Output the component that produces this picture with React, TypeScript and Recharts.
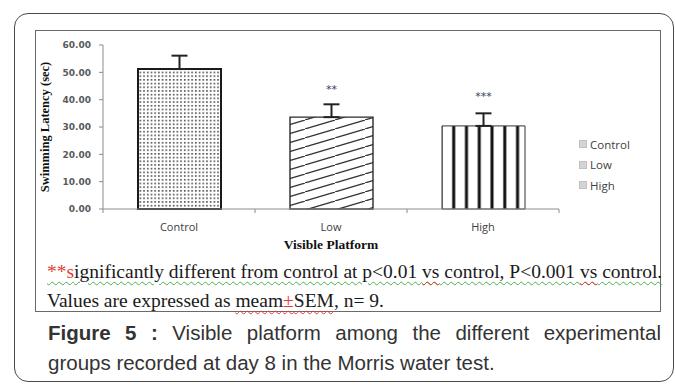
import { BarChart, Bar, XAxis, YAxis, ErrorBar, Cell, LabelList } from "recharts";

const groups = ["Control", "Low", "High"];
const latency = [51.2, 33.6, 30.4];
const sem = [4.9, 4.7, 4.6];
const marks = ["", "**", "***"];
const yTicks = [0, 10, 20, 30, 40, 50, 60];

const rows = groups.map((group, i) => ({
  group,
  latency: latency[i],
  err: [0, sem[i]],
  mark: marks[i],
}));

const CHART_W = 626;
const CHART_H = 230;
const MARGIN = { top: 15, right: 102, left: 0, bottom: 11 };
const Y_W = 68;
const BAND = (CHART_W - MARGIN.left - MARGIN.right - Y_W) / groups.length;

const fills = ["url(#dots)", "url(#hatch)", "url(#stripes)"];
const strokes = [
  { stroke: "#1a1a1a", w: 2 },
  { stroke: "#2a2a2a", w: 1.4 },
  { stroke: "#333", w: 1 },
];

// Excel-style category tick: label centred, tick marks on the band edges
function GroupTick(props: any) {
  const { x, y, payload, index } = props;
  const left = x - BAND / 2;
  return (
    <g>
      <line x1={left} y1={y} x2={left} y2={y + 4} stroke="#8c8c8c" />
      {index === groups.length - 1 && (
        <line x1={x + BAND / 2} y1={y} x2={x + BAND / 2} y2={y + 4} stroke="#8c8c8c" />
      )}
      <text
        x={x}
        y={y + 22}
        textAnchor="middle"
        fill="#404040"
        fontSize={11}
        fontFamily="'Open Sans', sans-serif"
      >
        {payload.value}
      </text>
    </g>
  );
}

function StarMark(props: any) {
  const { x, y, width, height, index, value } = props;
  if (!value) return null;
  const errTop = y - (sem[index] / latency[index]) * height;
  return (
    <text
      x={x + width / 2}
      y={errTop - 7 - value.length * 2}
      textAnchor="middle"
      fill="#34405a"
      fontSize={11}
      fontFamily="'DejaVu Sans', sans-serif"
    >
      {value}
    </text>
  );
}

const serif = "'Liberation Serif', 'Times New Roman', serif";
const squiggleGreen = { textDecoration: "underline wavy #4caf50", textDecorationThickness: 1, textUnderlineOffset: 3 };
const squiggleRed = { textDecoration: "underline wavy #e53935", textDecorationThickness: 1, textUnderlineOffset: 3 };

const captionLine = {
  position: "absolute" as const,
  left: 48,
  width: 613,
  fontFamily: "'Liberation Sans', Arial, sans-serif",
  fontSize: 20.5,
  lineHeight: "30px",
  color: "#333",
  whiteSpace: "nowrap" as const,
};

export default function App() {
  return (
    <div
      style={{
        position: "absolute",
        left: 0,
        top: 0,
        width: 675,
        height: 385,
        background: "#fff",
        overflow: "hidden",
      }}
    >
      {/* card outline */}
      <div
        style={{
          position: "absolute",
          left: 14,
          top: 13,
          width: 660,
          height: 369,
          border: "1.5px solid #4a4a4a",
          borderRadius: 14,
          boxSizing: "border-box",
        }}
      />
      {/* figure box */}
      <div
        style={{
          position: "absolute",
          left: 35,
          top: 30,
          width: 626,
          height: 282,
          border: "1px solid #6a6a6a",
          boxSizing: "border-box",
        }}
      />
      <div style={{ position: "absolute", left: 35, top: 30 }}>
        <BarChart width={CHART_W} height={CHART_H} data={rows} margin={MARGIN} barSize={83}>
          <defs>
            <pattern id="dots" width="3.7" height="3.7" patternUnits="userSpaceOnUse">
              <rect width="3.7" height="3.7" fill="#fff" />
              <rect x="1" y="1" width="1.5" height="1.5" fill="#333" />
            </pattern>
            <pattern id="hatch" width="30" height="9" patternUnits="userSpaceOnUse">
              <rect width="30" height="9" fill="#fff" />
              <line x1="0" y1="9" x2="30" y2="0" stroke="#333" strokeWidth="1.2" />
            </pattern>
            <pattern
              id="stripes"
              width={1 / 6.5}
              height="1"
              patternUnits="objectBoundingBox"
              patternContentUnits="userSpaceOnUse"
            >
              <rect width="13" height="400" fill="#fff" />
              <rect x="10.2" width="2.6" height="400" fill="#111" />
              <rect x="0" width="0.45" height="400" fill="#111" />
            </pattern>
          </defs>
          <XAxis
            dataKey="group"
            height={40}
            tickLine={false}
            tickSize={0}
            tickMargin={0}
            axisLine={{ stroke: "#8c8c8c" }}
            tick={<GroupTick />}
            interval={0}
            label={{
              content: ({ viewBox }: any) => (
                <text
                  x={viewBox.x + viewBox.width / 2}
                  y={viewBox.y + 40}
                  textAnchor="middle"
                  fontFamily={serif}
                  fontWeight="bold"
                  fontSize={13.5}
                  fill="#111"
                >
                  Visible Platform
                </text>
              ),
            }}
          />
          <YAxis
            width={Y_W}
            domain={[0, 60]}
            ticks={yTicks}
            tickFormatter={(v: number) => v.toFixed(2)}
            axisLine={{ stroke: "#8c8c8c" }}
            tickLine={{ stroke: "#8c8c8c" }}
            tickSize={4}
            tickMargin={8}
            tick={{ fill: "#595959", fontSize: 9, fontWeight: "bold", fontFamily: "'DejaVu Sans', sans-serif" }}
            label={{
              content: ({ viewBox }: any) => (
                <text
                  x={10}
                  y={viewBox.y + viewBox.height / 2}
                  transform={`rotate(-90, 10, ${viewBox.y + viewBox.height / 2})`}
                  textAnchor="middle"
                  dominantBaseline="central"
                  fontFamily={serif}
                  fontWeight="bold"
                  fontSize={12.5}
                  fill="#111"
                >
                  Swimming Latency (sec)
                </text>
              ),
            }}
          />
          <Bar dataKey="latency" isAnimationActive={false}>
            {rows.map((r, i) => (
              <Cell key={r.group} fill={fills[i]} stroke={strokes[i].stroke} strokeWidth={strokes[i].w} />
            ))}
            <ErrorBar dataKey="err" direction="y" width={8} stroke="#222" strokeWidth={2} />
            <LabelList dataKey="mark" content={<StarMark />} />
          </Bar>
        </BarChart>
      </div>

      {/* group legend */}
      <div
        style={{
          position: "absolute",
          left: 579,
          top: 134,
          fontFamily: "'Open Sans', sans-serif",
          fontSize: 11.5,
          color: "#404040",
        }}
      >
        {groups.map((g) => (
          <div key={g} style={{ display: "flex", alignItems: "center", height: 20.5 }}>
            <span
              style={{
                width: 6,
                height: 6,
                background: "#d4d4d4",
                border: "1px solid #c0c0c0",
                marginRight: 3,
              }}
            />
            {g}
          </div>
        ))}
      </div>

      {/* footnotes inside the figure box */}
      <div
        style={{
          position: "absolute",
          left: 47,
          top: 261,
          fontFamily: serif,
          fontSize: 19.5,
          lineHeight: "22px",
          color: "#1a1a1a",
          whiteSpace: "nowrap",
        }}
      >
        <span style={squiggleGreen}>
          <span style={{ color: "#e53935" }}>**s</span>ignificantly different from control at p&lt;0.01{" "}
          <span style={squiggleRed}>vs</span> control, P&lt;0.001 <span style={squiggleRed}>vs</span> control.
        </span>
      </div>
      <div
        style={{
          position: "absolute",
          left: 47,
          top: 290,
          fontFamily: serif,
          fontSize: 19.5,
          lineHeight: "22px",
          color: "#1a1a1a",
          whiteSpace: "nowrap",
        }}
      >
        Values are expressed as{" "}
        <span style={squiggleRed}>
          meam<span style={{ color: "#e53935" }}>±</span>SEM
        </span>
        , n= 9.
      </div>

      {/* caption: first line justified across the full width */}
      <div style={{ ...captionLine, top: 318, textAlign: "justify", textAlignLast: "justify" }}>
        <b>Figure 5 :</b> Visible platform among the different experimental
      </div>
      <div style={{ ...captionLine, top: 348 }}>groups recorded at day 8 in the Morris water test.</div>
    </div>
  );
}
